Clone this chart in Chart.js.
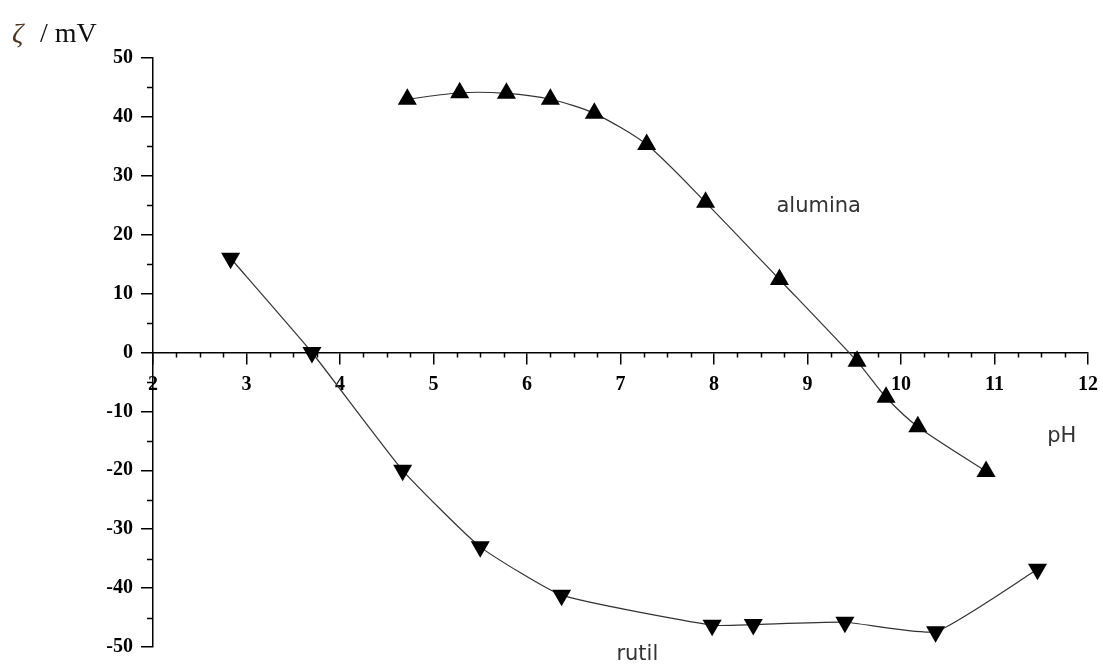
<!DOCTYPE html>
<html>
<head>
<meta charset="utf-8">
<script src="https://cdn.jsdelivr.net/npm/chart.js@4.4.1/dist/chart.umd.min.js"></script>
<style>
  html, body { margin: 0; padding: 0; background: #fff; }
  #wrap { width: 1103px; height: 664px; position: relative; }
</style>
</head>
<body>
<div id="wrap"><canvas id="c" width="1103" height="664"></canvas></div>
<script>
// ---- data ----
const aluminaPH   = [4.72, 5.28, 5.78, 6.25, 6.72, 7.28, 7.91, 8.70, 9.53, 9.84, 10.18, 10.91];
const aluminaZeta = [43.0, 44.1, 44.0, 43.0, 40.6, 35.3, 25.5, 12.4, -1.5, -7.6, -12.6, -20.2];
const rutilPH     = [2.83, 3.70, 4.67, 5.50, 6.37, 7.98, 8.42, 9.40, 10.37, 11.46];
const rutilZeta   = [16.0, 0.0, -20.0, -33.0, -41.2, -46.3, -46.2, -45.8, -47.4, -36.8];
const xTicks = [2, 3, 4, 5, 6, 7, 8, 9, 10, 11, 12];
const yTicks = [-50, -40, -30, -20, -10, 0, 10, 20, 30, 40, 50];
const labels = [
  { text: 'alumina', x: 9.12, y: 24.8 },
  { text: 'rutil',   x: 7.18, y: -51.3 },
  { text: 'pH',      x: 11.72, y: -14.3 }
];

const toPts = (xs, ys) => xs.map((x, i) => ({ x: x, y: ys[i] }));

const minorTicks = {
  id: 'minorTicks',
  afterDraw(chart) {
    const ctx = chart.ctx;
    const xs = chart.scales.x, ys = chart.scales.y;
    const y0 = ys.getPixelForValue(0);
    const left = chart.chartArea.left;
    ctx.save();
    ctx.strokeStyle = '#000';
    ctx.lineWidth = 1.5;
    ctx.beginPath();
    for (let i = 0; i < xTicks.length - 1; i++) {
      for (let k = 1; k < 4; k++) {
        const px = Math.round(xs.getPixelForValue(xTicks[i] + k * 0.25)) + 0.5;
        ctx.moveTo(px, y0);
        ctx.lineTo(px, y0 + 5);
      }
    }
    for (let i = 0; i < yTicks.length - 1; i++) {
      const py = Math.round(ys.getPixelForValue((yTicks[i] + yTicks[i + 1]) / 2)) + 0.5;
      ctx.moveTo(left - 6, py);
      ctx.lineTo(left, py);
    }
    ctx.stroke();

    // annotations
    ctx.fillStyle = '#333';
    ctx.font = '21px "DejaVu Sans", sans-serif';
    ctx.textAlign = 'center';
    ctx.textBaseline = 'middle';
    labels.forEach(l => {
      ctx.fillText(l.text, xs.getPixelForValue(l.x), ys.getPixelForValue(l.y));
    });

    // y axis title
    ctx.textAlign = 'left';
    ctx.textBaseline = 'alphabetic';
    ctx.fillStyle = '#4a3520';
    ctx.font = 'italic 28px "Liberation Serif", serif';
    ctx.fillText('ζ', 12, 42);
    ctx.fillStyle = '#111';
    ctx.font = '28px "Liberation Serif", serif';
    ctx.fillText('/ mV', 40, 42);
    ctx.restore();
  }
};

const tickFont = { family: '"Liberation Serif", serif', size: 20, weight: 'bold' };

new Chart(document.getElementById('c'), {
  type: 'line',
  data: {
    datasets: [
      {
        label: 'alumina',
        data: toPts(aluminaPH, aluminaZeta),
        borderColor: '#333',
        borderWidth: 1.2,
        backgroundColor: '#000',
        pointStyle: 'triangle',
        pointRotation: 0,
        pointRadius: 11,
        pointBorderWidth: 0,
        tension: 0.25,
        fill: false
      },
      {
        label: 'rutil',
        data: toPts(rutilPH, rutilZeta),
        borderColor: '#333',
        borderWidth: 1.2,
        backgroundColor: '#000',
        pointStyle: 'triangle',
        pointRotation: 180,
        pointRadius: 11,
        pointBorderWidth: 0,
        tension: 0.15,
        fill: false
      }
    ]
  },
  options: {
    responsive: false,
    animation: false,
    layout: { padding: { left: 0, right: 15, top: 58, bottom: 17 } },
    plugins: { legend: { display: false }, tooltip: { enabled: false } },
    scales: {
      x: {
        type: 'linear',
        min: 2, max: 12,
        position: { y: 0 },
        afterBuildTicks: s => { s.ticks = xTicks.map(v => ({ value: v })); },
        afterFit: s => { s.paddingLeft = 0; s.paddingRight = 0; },
        ticks: { font: tickFont, color: '#000', padding: 9, maxRotation: 0 },
        grid: { drawOnChartArea: false, tickLength: 11, color: '#000', lineWidth: 1.5 },
        border: { color: '#000', width: 1.5 }
      },
      y: {
        type: 'linear',
        min: -50, max: 50,
        position: 'left',
        afterBuildTicks: s => { s.ticks = yTicks.map(v => ({ value: v })); },
        afterFit: s => { s.width = 153; s.paddingTop = 0; s.paddingBottom = 0; },
        ticks: { font: tickFont, color: '#000', padding: 8 },
        grid: { drawOnChartArea: false, tickLength: 12, color: '#000', lineWidth: 1.5 },
        border: { color: '#000', width: 1.5 }
      }
    }
  },
  plugins: [minorTicks]
});
</script>
</body>
</html>
